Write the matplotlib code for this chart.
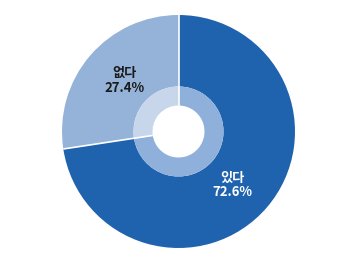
import matplotlib
matplotlib.use("Agg")
import matplotlib.pyplot as plt
import numpy as np

labels = ["있다", "없다"]
values = [72.6, 27.4]
outer_colors = ["#1F63AF", "#95B3D8"]
inner_colors = ["#8FB0DB", "#C7D6EB"]
text_colors = ["white", "#1a1a1a"]

plt.rcParams['font.family'] = ['Noto Sans CJK KR', 'DejaVu Sans']

fig = plt.figure(figsize=(3.56, 2.62), dpi=100)
ax = fig.add_axes([0, 0, 1, 1])

r = 116.5
inner_r = 45 / r
hole_r = 26 / r

ax.pie(values, radius=1, startangle=90, counterclock=False, colors=outer_colors,
       wedgeprops=dict(width=1 - inner_r, linewidth=0))
ax.pie(values, radius=inner_r, startangle=90, counterclock=False, colors=inner_colors,
       wedgeprops=dict(width=inner_r - hole_r, linewidth=0))

# white separators between slices
bounds = 90 - 360 * np.cumsum([0] + values[:-1]) / sum(values)
for a in np.deg2rad(bounds):
    ax.plot([hole_r * np.cos(a), np.cos(a)], [hole_r * np.sin(a), np.sin(a)],
            color="white", lw=1.2, solid_capstyle="butt")

label_pos = [(0.46, -0.46), (-0.46, 0.44)]
for lab, val, (x, y), c in zip(labels, values, label_pos, text_colors):
    ax.text(x, y, f"{lab}\n{val}%", ha="center", va="center", color=c,
            fontsize=9.5, fontweight="bold", linespacing=1.05)

ax.set_xlim(-178.5 / r, (356 - 178.5) / r)
ax.set_ylim(-130.5 / r, 131.5 / r)
ax.set_aspect("equal")
ax.axis("off")

fig.savefig("out.png", dpi=100)
